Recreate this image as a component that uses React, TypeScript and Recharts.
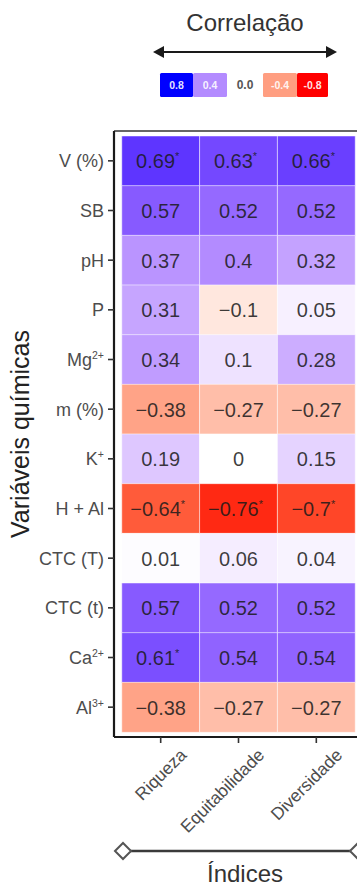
import React from "react";
import { BarChart, Bar, XAxis, YAxis, Cell, LabelList } from "recharts";

// ---- data ----
const rowLabels = ["V (%)", "SB", "pH", "P", "Mg", "m (%)", "K", "H + Al", "CTC (T)", "CTC (t)", "Ca", "Al"];
const rowSups = ["", "", "", "", "2+", "", "+", "", "", "", "2+", "3+"];
const indices = ["Riqueza", "Equitabilidade", "Diversidade"];
const riqueza = [0.69, 0.57, 0.37, 0.31, 0.34, -0.38, 0.19, -0.64, 0.01, 0.57, 0.61, -0.38];
const equitabilidade = [0.63, 0.52, 0.4, -0.1, 0.1, -0.27, 0, -0.76, 0.06, 0.52, 0.54, -0.27];
const diversidade = [0.66, 0.52, 0.32, 0.05, 0.28, -0.27, 0.15, -0.7, 0.04, 0.52, 0.54, -0.27];
const sigRiqueza = [1, 0, 0, 0, 0, 0, 0, 1, 0, 0, 1, 0];
const sigEquit = [1, 0, 0, 0, 0, 0, 0, 1, 0, 0, 0, 0];
const sigDivers = [1, 0, 0, 0, 0, 0, 0, 1, 0, 0, 0, 0];
const legendValues = [0.8, 0.4, 0.0, -0.4, -0.8];
const legendLabels = ["0.8", "0.4", "0.0", "-0.4", "-0.8"];

const series = [riqueza, equitabilidade, diversidade];
const sigs = [sigRiqueza, sigEquit, sigDivers];

const table = rowLabels.map((name, i) => ({
  name,
  idx: i,
  c0: 1,
  c1: 1,
  c2: 1,
}));

// ---- colour: ggplot-like Lab gradient2 (low red, mid white, high blue) ----
const LAB_BLUE = [32.3, 79.19, -107.86];
const LAB_RED = [53.24, 80.09, 67.2];
function labToHex(L: number, a: number, b: number) {
  const fy = (L + 16) / 116;
  const fx = fy + a / 500;
  const fz = fy - b / 200;
  const finv = (t: number) => (t * t * t > 0.008856 ? t * t * t : (t - 16 / 116) / 7.787);
  const X = 0.95047 * finv(fx);
  const Y = 1.0 * finv(fy);
  const Z = 1.08883 * finv(fz);
  let r = 3.2404542 * X - 1.5371385 * Y - 0.4985314 * Z;
  let g = -0.969266 * X + 1.8760108 * Y + 0.041556 * Z;
  let bb = 0.0556434 * X - 0.2040259 * Y + 1.0572252 * Z;
  const gam = (c: number) => {
    const v = c <= 0.0031308 ? 12.92 * c : 1.055 * Math.pow(c, 1 / 2.4) - 0.055;
    return Math.max(0, Math.min(255, Math.round(v * 255)));
  };
  const h = (n: number) => n.toString(16).padStart(2, "0");
  return "#" + h(gam(r)) + h(gam(g)) + h(gam(bb));
}
function colorFor(v: number) {
  const t = Math.max(0, Math.min(1, Math.abs(v) / 0.8));
  const end = v >= 0 ? LAB_BLUE : LAB_RED;
  return labToHex(100 + (end[0] - 100) * t, end[1] * t, end[2] * t);
}
function fmt(v: number) {
  if (v === 0) return "0";
  return (v < 0 ? "\u2212" : "") + String(Math.abs(v));
}

const FONT = "'Liberation Sans', Arial, Helvetica, sans-serif";

const YTick = (props: any) => {
  const { x, y, payload } = props;
  const i = rowLabels.indexOf(payload.value);
  return (
    <text x={x} y={y} dy="0.36em" textAnchor="end" fontFamily={FONT} fontSize={18} fill="#4d4d4d">
      {payload.value}
      {rowSups[i] ? (
        <tspan dy={-7} fontSize={10.5}>
          {rowSups[i]}
        </tspan>
      ) : null}
    </text>
  );
};

const XTick = (props: any) => {
  const { x, y, payload } = props;
  const k = Math.round(payload.value - 0.5);
  const ax = x + 27;
  const ay = y + 11;
  return (
    <text
      x={ax}
      y={ay}
      textAnchor="end"
      transform={`rotate(-45, ${ax}, ${ay})`}
      fontFamily={FONT}
      fontSize={17.5}
      fill="#4d4d4d"
    >
      {indices[k]}
    </text>
  );
};

const makeLabel = (col: number) => (props: any) => {
  const { x, y, width, height, index } = props;
  const v = series[col][index];
  const s = sigs[col][index];
  return (
    <text
      x={x + width / 2 + (s ? -3 : 0)}
      y={y + height / 2}
      dy="0.36em"
      textAnchor="middle"
      fontFamily={FONT}
      fontSize={20}
      fill="#1a1a1a"
      fillOpacity={0.85}
    >
      {fmt(v)}
      {s ? (
        <tspan dy={-8} fontSize={11}>
          *
        </tspan>
      ) : null}
    </text>
  );
};

export default function App() {
  return (
    <div style={{ position: "absolute", left: 0, top: 0, width: 357, height: 886, overflow: "hidden", background: "#fff" }}>
      <BarChart
        layout="vertical"
        width={365}
        height={886}
        data={table}
        margin={{ top: 130, right: 2, bottom: 0, left: 14 }}
        barCategoryGap={0}
      >
        <XAxis
          type="number"
          domain={[-0.1, 3.1]}
          allowDataOverflow
          ticks={[0.5, 1.5, 2.5]}
          height={149}
          tick={<XTick />}
          tickSize={6}
          tickMargin={2}
          axisLine={{ stroke: "#1a1a1a", strokeWidth: 2.2 }}
          tickLine={{ stroke: "#333", strokeWidth: 1.6 }}
          interval={0}
        />
        <XAxis
          xAxisId="top"
          orientation="top"
          type="number"
          domain={[-0.1, 3.1]}
          allowDataOverflow
          height={1}
          tick={false}
          tickLine={false}
          axisLine={{ stroke: "#333", strokeWidth: 1.4 }}
        />
        <YAxis
          type="category"
          dataKey="name"
          width={100}
          padding={{ top: 5, bottom: 5 }}
          tick={<YTick />}
          tickSize={6}
          tickMargin={4}
          axisLine={{ stroke: "#1a1a1a", strokeWidth: 2.2 }}
          tickLine={{ stroke: "#333", strokeWidth: 1.6 }}
          interval={0}
        />
        {[0, 1, 2].map((col) => (
          <Bar
            key={col}
            dataKey={`c${col}`}
            stackId="a"
            isAnimationActive={false}
            stroke="#ffffff"
            strokeWidth={0.8}
            strokeOpacity={0.6}
          >
            {table.map((d, i) => (
              <Cell key={i} fill={colorFor(series[col][i])} />
            ))}
            <LabelList dataKey={`c${col}`} content={makeLabel(col)} />
          </Bar>
        ))}
      </BarChart>
      <svg
        width={357}
        height={886}
        style={{ position: "absolute", left: 0, top: 0, pointerEvents: "none" }}
      >
        {/* top legend */}
        <text x={245} y={31} textAnchor="middle" fontFamily={FONT} fontSize={24} fill="#333">
          Correlação
        </text>
        <line x1={160} y1={52} x2={330} y2={52} stroke="#1a1a1a" strokeWidth={2.2} />
        <polygon points="153,52 164,46 164,58" fill="#1a1a1a" />
        <polygon points="337,52 326,46 326,58" fill="#1a1a1a" />
        {legendValues.map((v, i) => {
          const x0 = [160, 193, 227, 263, 297][i];
          const w = [33, 34, 36, 34, 31][i];
          const isZero = v === 0;
          return (
            <g key={i}>
              {!isZero && <rect x={x0} y={73} width={w} height={24} rx={1.5} fill={colorFor(v)} />}
              <text
                x={x0 + w / 2}
                y={85}
                dy="0.36em"
                textAnchor="middle"
                fontFamily={FONT}
                fontSize={isZero ? 12 : 10.5}
                fontWeight="bold"
                fill={isZero ? "#555" : "#fff"}
                fillOpacity={isZero ? 1 : 0.9}
              >
                {legendLabels[i]}
              </text>
            </g>
          );
        })}
        {/* y title */}
        <text
          x={29}
          y={434}
          textAnchor="middle"
          transform="rotate(-90, 29, 434)"
          fontFamily={FONT}
          fontSize={25}
          fill="#222"
        >
          Variáveis químicas
        </text>
        {/* bottom line with diamonds */}
        <line x1={123} y1={851} x2={358} y2={851} stroke="#3a3a3a" strokeWidth={2.6} />
        <polygon points="115,851 123,843 131,851 123,859" fill="#fff" stroke="#555" strokeWidth={2} />
        <polygon points="350,851 358,843 366,851 358,859" fill="#fff" stroke="#555" strokeWidth={2} />
        <text x={245} y={882} textAnchor="middle" fontFamily={FONT} fontSize={24} fill="#333">
          Índices
        </text>
      </svg>
    </div>
  );
}
